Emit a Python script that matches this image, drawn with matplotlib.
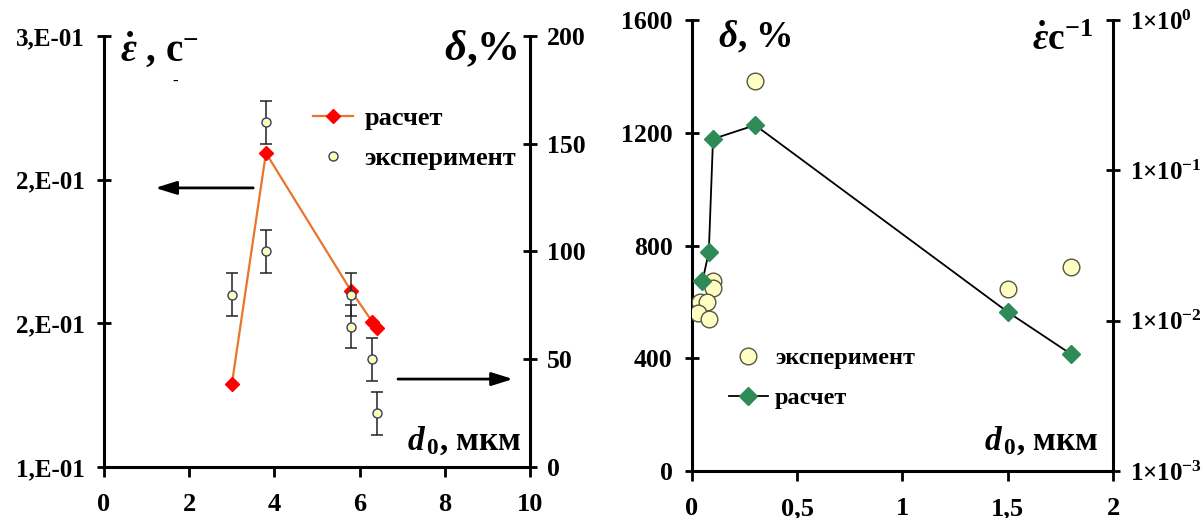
import numpy as np
import matplotlib
matplotlib.use("Agg")
from matplotlib import pyplot as plt

plt.rcParams['font.family'] = ['Liberation Serif', 'DejaVu Serif']
plt.rcParams['font.weight'] = 'bold'
plt.rcParams['mathtext.fontset'] = 'custom'
plt.rcParams['mathtext.rm'] = 'Liberation Serif'
plt.rcParams['mathtext.it'] = 'Liberation Serif:italic:bold'
plt.rcParams['mathtext.bf'] = 'Liberation Serif:bold'

# left panel: strain rate (calc) and elongation (experiment) vs grain size
calc_d = [3.0, 3.8, 5.8, 6.3, 6.4]
calc_rate = [0.1385, 0.2457, 0.1817, 0.1673, 0.1645]
exp_d = [3.0, 3.8, 3.8, 5.8, 5.8, 6.3, 6.4]
exp_delta = [80, 160, 100, 80, 65, 50, 25]
exp_err = [10, 10, 10, 10, 10, 10, 10]
rate_ticks = [0.1, 0.1667, 0.2333, 0.3]
rate_ticklabels = ["1,E-01", "2,E-01", "2,E-01", "3,E-01"]
delta_ticks = [0, 50, 100, 150, 200]
d_ticks = [0, 2, 4, 6, 8, 10]

# right panel
exp2_d = [0.30, 1.5, 1.8, 0.10, 0.10, 0.04, 0.07, 0.03, 0.08]
exp2_delta = [1383, 645, 724, 675, 650, 600, 600, 560, 540]
calc2_d = [0.05, 0.08, 0.10, 0.30, 1.5, 1.8]
calc2_delta = [674, 777, 1178, 1227, 564, 415]
delta2_ticks = [0, 400, 800, 1200, 1600]
d2_ticks = [0, 0.5, 1, 1.5, 2]
d2_ticklabels = ["0", "0,5", "1", "1,5", "2"]
rate2_ticks = [1e-3, 1e-2, 1e-1, 1e0]
rate2_ticklabels = [r'$1{\times}10^{-3}$', r'$1{\times}10^{-2}$',
                    r'$1{\times}10^{-1}$', r'$1{\times}10^{0}$']

W, H = 1203, 518


def px(x, y):
    return x / W, 1 - y / H


def style_axes(ax, ax2):
    for a in (ax, ax2):
        a.spines['top'].set_visible(False)
        for s in ('left', 'right', 'bottom'):
            a.spines[s].set_linewidth(2.2)
    ax.spines['right'].set_visible(False)
    ax2.spines['left'].set_visible(False)
    ax2.spines['bottom'].set_visible(False)
    ax.tick_params(axis='x', direction='out', length=7, width=2, pad=12, labelsize=19)
    ax.tick_params(axis='y', direction='inout', length=10, width=2, pad=9, labelsize=18.5)
    ax2.tick_params(axis='y', direction='inout', length=10, width=2, pad=7, labelsize=18.5)


fig = plt.figure(figsize=(12.03, 5.18), dpi=100)

# ---------- left panel ----------
axL = fig.add_axes([0.0865, 0.0985, 0.3541, 0.832])
axL2 = axL.twinx()
style_axes(axL, axL2)

hcalc, = axL.plot(calc_d, calc_rate, color='#E8752A', lw=1.6, marker='D', ms=7.5,
                  mfc='#FF0000', mec='#FF0000', zorder=3)
axL.set_xlim(0, 10)
axL.set_ylim(0.1, 0.3)
axL.set_xticks(d_ticks)
axL.set_yticks(rate_ticks)
axL.set_yticklabels(rate_ticklabels, fontsize=18)

axL2.errorbar(exp_d, exp_delta, yerr=exp_err, fmt='none', ecolor='#222222',
              elinewidth=1.1, capsize=4, capthick=1.1)
hexp, = axL2.plot(exp_d, exp_delta, ls='none', marker='o', ms=6.5,
                  mfc='#FFFFB0', mec='#3A3A6A', mew=1)
axL2.set_ylim(0, 200)
axL2.set_yticks(delta_ticks)

axL2.legend([hcalc, hexp], ['расчет', 'эксперимент'], loc='upper left',
            bbox_to_anchor=px(313, 107), bbox_transform=fig.transFigure,
            frameon=False, fontsize=19, handlelength=1.5, handletextpad=0.45,
            labelspacing=0.6, borderpad=0, borderaxespad=0)

arrow_kw = dict(arrowstyle='-|>,head_length=0.8,head_width=0.25',
                lw=2, color='k', mutation_scale=16, shrinkA=0, shrinkB=0)
axL.annotate('', xy=(1.2, 0.2295), xytext=(3.5, 0.2295), arrowprops=arrow_kw)
axL2.annotate('', xy=(9.6, 40.8), xytext=(6.9, 40.8), arrowprops=arrow_kw)

fig.text(*px(120, 62), r'$\dot{\varepsilon}$ , c$^{-}$', fontsize=28, va='baseline')
fig.text(*px(172, 86), '-', fontsize=12, va='baseline')
fig.text(*px(518, 60), r'$\delta$,%', fontsize=31, ha='right', va='baseline')
fig.text(*px(522, 450), r'$d_{\,\mathbf{0}}$, мкм', fontsize=24, ha='right', va='baseline')

# ---------- right panel ----------
axR = fig.add_axes([0.5752, 0.0907, 0.35, 0.8707])
axR2 = axR.twinx()
style_axes(axR, axR2)

hexp2, = axR.plot(exp2_d, exp2_delta, ls='none', marker='o', ms=12,
                  mfc='#FFFFC4', mec='#555544', mew=1, zorder=3)
hcalc2, = axR.plot(calc2_d, calc2_delta, color='k', lw=1.3, marker='D', ms=9.5,
                   mfc='#2E8B57', mec='#2E8B57', zorder=4)
axR.set_xlim(0, 2)
axR.set_ylim(0, 1600)
axR.set_xticks(d2_ticks)
axR.set_xticklabels(d2_ticklabels)
axR.set_yticks(delta2_ticks)

axR2.set_yscale('log')
axR2.set_ylim(1e-3, 1)
axR2.set_yticks(rate2_ticks)
axR2.set_yticklabels(rate2_ticklabels, fontsize=18)
axR2.yaxis.set_minor_locator(matplotlib.ticker.NullLocator())

axR.legend([hexp2, hcalc2], ['эксперимент', 'расчет'], loc='upper left',
           bbox_to_anchor=px(729, 347), bbox_transform=fig.transFigure,
           frameon=False, fontsize=17.5, handlelength=1.6, handletextpad=0.3,
           labelspacing=0.75, borderpad=0, borderaxespad=0)

fig.text(*px(718, 47), r'$\delta$, %', fontsize=27, va='baseline')
fig.text(*px(1093, 50), r'$\dot{\varepsilon}$c$^{-1}$', fontsize=27, ha='right', va='baseline')
fig.text(*px(1099, 450), r'$d_{\,\mathbf{0}}$, мкм', fontsize=24, ha='right', va='baseline')

fig.savefig('out.png', dpi=100)
